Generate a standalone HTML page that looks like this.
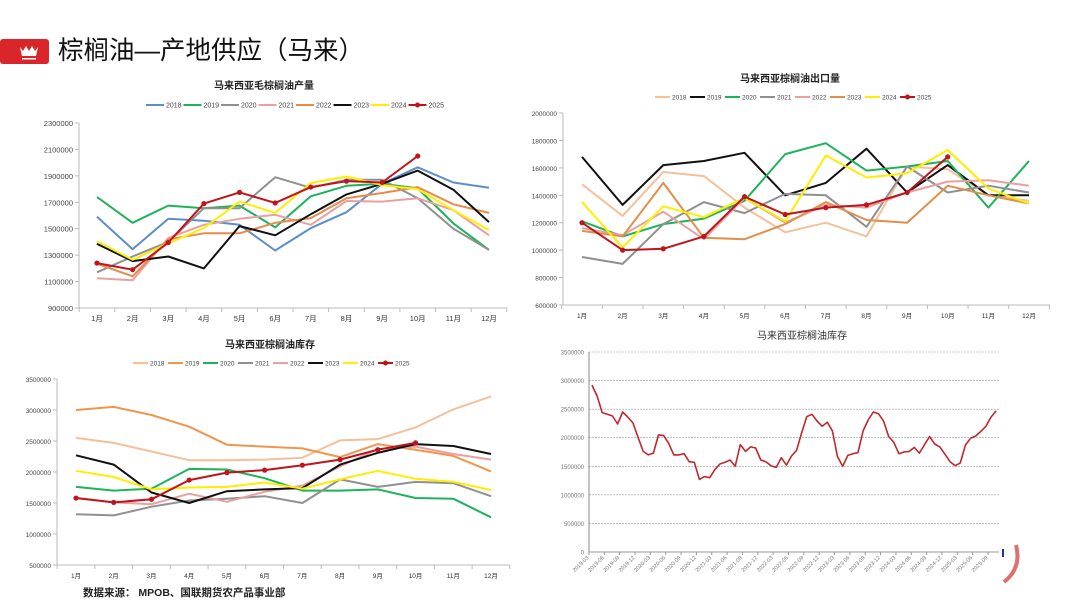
<!DOCTYPE html>
<html><head><meta charset="utf-8"><style>
body{margin:0;background:#fff;}
svg text{font-family:"Liberation Sans","Noto Sans CJK SC",sans-serif;}
</style></head><body>
<svg id="s" width="1080" height="608" viewBox="0 0 1080 608" xmlns="http://www.w3.org/2000/svg">
<rect x="0" y="39" width="49" height="25" rx="3" fill="#d9262b"/>
<path d="M26 46 L29 51 L32 46 L35 51 L38 47 L36 56 L22 56 L20 47 L23 51 Z" fill="#fff"/>
<rect x="22" y="58" width="14" height="1.5" fill="#fff"/>
<text x="58" y="59" font-size="25.5" fill="#111">棕榈油—产地供应（马来）</text>
<text x="83" y="596" font-size="10.5" font-weight="bold" fill="#222">数据来源：  MPOB、国联期货农产品事业部</text>
<path d="M1004 582 Q1022 568 1016 545" stroke="#e07070" stroke-width="4" fill="none"/>
<rect x="1002" y="549" width="2" height="8" fill="#1a3a8a"/>
</svg>
<script>
const months=["1月","2月","3月","4月","5月","6月","7月","8月","9月","10月","11月","12月"];
const years=["2018","2019","2020","2021","2022","2023","2024","2025"];
// Chart 1: production
const prodTicks=[900000,1100000,1300000,1500000,1700000,1900000,2100000,2300000];
const prod2018=[1590,1345,1575,1560,1530,1335,1505,1625,1840,1965,1850,1810];
const prod2019=[1740,1545,1675,1655,1675,1510,1745,1825,1840,1805,1540,1340];
const prod2020=[1170,1290,1400,1655,1655,1890,1810,1870,1870,1730,1500,1340];
const prod2021=[1125,1110,1430,1530,1575,1605,1530,1710,1705,1730,1640,1450];
const prod2022=[1235,1140,1420,1465,1465,1545,1580,1730,1770,1815,1685,1620];
const prod2023=[1385,1255,1290,1200,1520,1450,1610,1760,1840,1940,1795,1550];
const prod2024=[1405,1265,1390,1505,1705,1620,1845,1895,1830,1800,1640,1490];
const prod2025=[1240,1190,1395,1690,1775,1695,1815,1860,1850,2050];
// Chart 2: exports
const expTicks=[600000,800000,1000000,1200000,1400000,1600000,1800000,2000000];
const exp2018=[1480,1250,1570,1540,1310,1130,1200,1100,1610,1590,1400,1360];
const exp2019=[1680,1330,1620,1650,1710,1400,1490,1740,1420,1620,1400,1400];
const exp2020=[1210,1100,1190,1230,1360,1700,1780,1580,1610,1650,1310,1650];
const exp2021=[950,900,1190,1350,1270,1410,1400,1170,1610,1420,1470,1420];
const exp2022=[1160,1110,1280,1080,1380,1200,1330,1310,1420,1500,1510,1470];
const exp2023=[1140,1100,1490,1090,1080,1190,1350,1220,1200,1470,1400,1340];
const exp2024=[1350,1020,1320,1240,1380,1210,1690,1530,1560,1730,1450,1340];
const exp2025=[1200,1000,1010,1100,1390,1260,1310,1330,1420,1680];
// Chart 3: stocks
const stkTicks=[500000,1000000,1500000,2000000,2500000,3000000,3500000];
const stk2018=[2550,2470,2330,2190,2190,2200,2230,2510,2530,2720,3010,3220];
const stk2019=[3000,3050,2920,2730,2440,2410,2380,2240,2450,2360,2260,2010];
const stk2020=[1760,1700,1730,2050,2040,1900,1700,1700,1720,1580,1570,1270];
const stk2021=[1320,1300,1440,1540,1570,1610,1500,1880,1760,1840,1820,1610];
const stk2022=[1580,1510,1480,1650,1520,1680,1780,2090,2370,2410,2290,2200];
const stk2023=[2270,2120,1670,1500,1690,1720,1740,2120,2310,2450,2420,2290];
const stk2024=[2020,1920,1720,1750,1760,1830,1730,1880,2020,1890,1840,1710];
const stk2025=[1580,1510,1560,1870,1990,2030,2110,2200,2360,2470];
// Chart 4: stock time series ticks
const tsTicks=[0,500000,1000000,1500000,2000000,2500000,3000000,3500000];
const tsLabels=["2019-03","2019-06","2019-09","2019-12","2020-03","2020-06","2020-09","2020-12","2021-03","2021-06","2021-09","2021-12","2022-03","2022-06","2022-09","2022-12","2023-03","2023-06","2023-09","2023-12","2024-03","2024-06","2024-09","2024-12","2025-03","2025-06","2025-09"];

const NS="http://www.w3.org/2000/svg";
const S=document.getElementById('s');
function el(t,a,p){const e=document.createElementNS(NS,t);for(const k in a)e.setAttribute(k,a[k]);(p||S).appendChild(e);return e;}

function chart(cfg){
  const g=el('g',{});
  
  
  const {L,R,T,B,x0,x1,ticks}=cfg;
  const vmin=ticks[0],vmax=ticks[ticks.length-1];
  const y=v=>B-(v*1000-vmin)/(vmax-vmin)*(B-T);
  const x=i=>x0+i*(x1-x0)/11;
  const tt=el('text',{x:cfg.tx,y:cfg.ty,'font-size':10,'font-weight':'bold','text-anchor':'middle',fill:'#222'},g);
  tt.textContent=cfg.title;
  
  
  el('line',{x1:L,y1:T,x2:L,y2:B,stroke:'#bbb','stroke-width':1},g);
  el('line',{x1:L,y1:B,x2:R,y2:B,stroke:'#bbb','stroke-width':1},g);
  ticks.forEach(v=>{
    const yy=B-(v-vmin)/(vmax-vmin)*(B-T);
    el('line',{x1:L-4,y1:yy,x2:L,y2:yy,stroke:'#bbb'},g);
    const t=el('text',{x:L-6,y:yy+3,'font-size':cfg.fs,'text-anchor':'end',fill:'#444'},g);
    t.textContent=String(v);
    
    
  });
  const step=(x1-x0)/11;
  for(let i=0;i<=12;i++){const xx=x0-step/2+i*step;el('line',{x1:xx,y1:B,x2:xx,y2:B+4,stroke:'#bbb'},g);}
  months.forEach((m,i)=>{
    const t=el('text',{x:x(i),y:B+13,'font-size':cfg.fs,'text-anchor':'middle',fill:'#333'},g);
    t.textContent=m;
    
    
  });
  let lx=cfg.lx;
  cfg.series.forEach((s,k)=>{
    el('line',{x1:lx,y1:cfg.ly,x2:lx+cfg.ll,y2:cfg.ly,stroke:cfg.colors[k],'stroke-width':2},g);
    if(k===7)el('circle',{cx:lx+cfg.ll/2,cy:cfg.ly,r:2.5,fill:cfg.colors[k]},g);
    const t=el('text',{x:lx+cfg.ll+2,y:cfg.ly+2.5,'font-size':cfg.lfs,fill:'#444'},g);
    t.textContent=years[k];
    
    
    lx+=cfg.lstep;
  });
  cfg.series.forEach((s,k)=>{
    const d=s.map((v,i)=>(i?'L':'M')+x(i).toFixed(1)+' '+y(v).toFixed(1)).join(' ');
    const p=el('path',{d:d,fill:'none',stroke:cfg.colors[k],'stroke-width':2,'stroke-linejoin':'round'},g);
    
    
    if(k===7)s.forEach((v,i)=>{
      const c=el('circle',{cx:x(i),cy:y(v),r:2.6,fill:cfg.colors[k]},g);
      
      
    });
  });
}
const c1=['#5b8fc7','#1db35a','#909090','#e8a0a0','#e88b4a','#111111','#ffee00','#c0141c'];
const c2=['#f4c09a','#111111','#1db35a','#909090','#e8a0a0','#e0904a','#ffee00','#c0141c'];
const c3=['#f4c09a','#f0964c','#1db35a','#909090','#e8a0a0','#111111','#ffee00','#c0141c'];
chart({name:'production-chart',title:'马来西亚毛棕榈油产量',tx:264,ty:89,L:79,R:507,T:123,B:308,x0:97,x1:489,ticks:prodTicks,fs:7.5,lx:146,ly:105,lstep:37.5,ll:18,lfs:7,colors:c1,
 series:[prod2018,prod2019,prod2020,prod2021,prod2022,prod2023,prod2024,prod2025]});
chart({name:'export-chart',title:'马来西亚棕榈油出口量',tx:790,ty:82,L:563,R:1050,T:113,B:305,x0:582,x1:1029,ticks:expTicks,fs:6.5,lx:655,ly:97,lstep:35,ll:15,lfs:6.5,colors:c2,
 series:[exp2018,exp2019,exp2020,exp2021,exp2022,exp2023,exp2024,exp2025]});
chart({name:'stock-chart',title:'马来西亚棕榈油库存',tx:270,ty:348,L:57,R:510,T:379,B:565,x0:76,x1:491,ticks:stkTicks,fs:6.5,lx:133,ly:363,lstep:35,ll:15,lfs:6.5,colors:c3,
 series:[stk2018,stk2019,stk2020,stk2021,stk2022,stk2023,stk2024,stk2025]});

// Chart 4: time series (2019-03 .. 2025-10) built from the stock arrays
(function(){
  const series=[].concat(stk2019.slice(2),stk2020,stk2021,stk2022,stk2023,stk2024,stk2025);
  const g=el('g',{});
  
  
  const L=589,R=999,T=352,B=552;
  const mstep=(988-589)/78;
  const y=v=>B-v/3500000*(B-T);
  const x=i=>592+i*mstep;
  const tt=el('text',{x:802,y:339,'font-size':10,'text-anchor':'middle',fill:'#333'},g);
  tt.textContent='马来西亚棕榈油库存';
  
  
  tsTicks.forEach(v=>{
    const yy=y(v);
    if(v>0)el('line',{x1:L,y1:yy,x2:R,y2:yy,stroke:'#999','stroke-width':0.6,'stroke-dasharray':'2,1'},g);
    const t=el('text',{x:L-5,y:yy+2.5,'font-size':6,'text-anchor':'end',fill:'#777'},g);
    t.textContent=String(v);
    
    
  });
  el('line',{x1:L,y1:T,x2:L,y2:B,stroke:'#888','stroke-width':1},g);
  el('line',{x1:L,y1:B,x2:R,y2:B,stroke:'#999','stroke-width':1},g);
  tsLabels.forEach((s,i)=>{
    const xx=L+i*mstep*3;
    el('line',{x1:xx,y1:B,x2:xx,y2:B+3,stroke:'#999'},g);
    const t=el('text',{x:xx,y:B+6,'font-size':5.5,'text-anchor':'end',fill:'#777',transform:'rotate(-45 '+xx+' '+(B+6)+')'},g);
    t.textContent=s;
    
    
  });
  const d=series.map((v,i)=>(i?'L':'M')+x(i).toFixed(1)+' '+y(v*1000).toFixed(1)).join(' ');
  const p=el('path',{d:d,fill:'none',stroke:'#c0282e','stroke-width':1.6,'stroke-linejoin':'round'},g);
  
  
})();
</script>
</body></html>
